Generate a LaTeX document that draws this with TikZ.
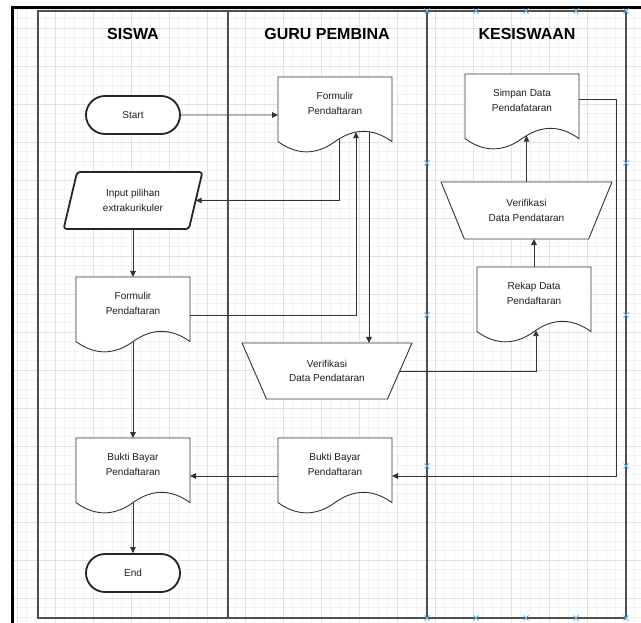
\documentclass[tikz,border=0pt]{standalone}
\usepackage{fontspec}
\setmainfont{Liberation Sans}
\usetikzlibrary{shapes.geometric,shapes.misc,arrows.meta}
\definecolor{gridminor}{HTML}{F3F3F3}
\definecolor{gridmajor}{HTML}{E2E2E2}
\definecolor{lanecol}{HTML}{505050}
\definecolor{shapecol}{HTML}{333333}
\definecolor{handlecol}{HTML}{5AB4E8}
\definecolor{textcol}{HTML}{1E1E1E}
\newcommand\docshape[4]{%
  \node[docbox, anchor=north west] (#1) at (#2,#3) {};
  \draw[docline, shift={(#1.north west)}] (0,0) -- (114,0) -- (114,64.6)
     .. controls (95,50.93) and (76,50.93) .. (57,64.6)
     .. controls (38,78.27) and (19,78.27) .. (0,64.6) -- cycle;
  \node[lbl] (#1-t) at ([yshift=-26.5pt]#1.north) {#4};
}
\begin{document}
\begin{tikzpicture}[x=1pt,y=-1pt,
  lbl/.style={font=\fontsize{10}{14.5}\selectfont, align=center, text=textcol, inner sep=0pt},
  hdr/.style={font=\fontsize{16}{19}\selectfont\bfseries, text=black, inner sep=0pt},
  docbox/.style={rectangle, minimum width=114pt, minimum height=76pt, inner sep=0pt, outer sep=0pt},
  docline/.style={draw=shapecol, fill=white, line width=0.9pt},
  term/.style={rounded rectangle, draw=black!85, fill=white, line width=1.8pt, minimum width=94pt, minimum height=38pt, inner sep=0pt, lbl},
  inshape/.style={trapezium, trapezium left angle=71.6, trapezium right angle=108.4, trapezium stretches=true,
     rounded corners=3pt, draw=black!85, fill=white, line width=1.8pt, minimum width=139pt, minimum height=57pt, inner sep=0pt, outer sep=0pt, lbl},
  manual/.style={trapezium, trapezium left angle=#1, trapezium right angle=#1, trapezium stretches=true,
     draw=shapecol, fill=white, line width=0.9pt, inner sep=0pt, outer sep=0pt, lbl},
  arr/.style={draw=shapecol, line width=0.9pt, -{Triangle[length=6pt,width=5.5pt]}},
  lane/.style={draw=lanecol, line width=1.3pt},
  handle/.style={draw=handlecol, line width=0.9pt}
]
\useasboundingbox (0,0) rectangle (641,623);
\fill[white] (0,0) rectangle (641,623);
% grid
\begin{scope}
\clip (13,8.5) rectangle (641,623);
\foreach \i in {0,...,67} {
  \draw[gridminor, line width=0.6pt] ({7.5+9.5*\i},0) -- ({7.5+9.5*\i},623);
  \draw[gridminor, line width=0.6pt] (0,{-10+9.5*\i}) -- (641,{-10+9.5*\i});
}
\foreach \i in {0,...,17} {
  \draw[gridmajor, line width=0.8pt] ({17+38*\i},0) -- ({17+38*\i},623);
  \draw[gridmajor, line width=0.8pt] (0,{-10+38*\i}) -- (641,{-10+38*\i});
}
\end{scope}
% outer border
\draw[black, line width=2.6pt] (12.2,623) -- (12.2,7.7) -- (641,7.7);
% swimlanes
\draw[lane] (38,11) rectangle (626,618);
\draw[lane] (228,11) -- (228,618);
\draw[lane] (427,11) -- (427,618);
\node[hdr] (h1) at (133,34) {SISWA};
\node[hdr] (h2) at (327,34) {GURU PEMBINA};
\node[hdr] (h3) at (527,34) {KESISWAAN};
% selection handles
\foreach \p in {(427,11),(476,11),(526,11),(576,11),(626,11),
                (427,618),(476,618),(526,618),(576,618),(626,618),
                (427,163),(427,315),(427,466),(626,163),(626,315),(626,466)} {
  \draw[handle] \p ++(-2.5,-2.5) -- ++(5,5) \p ++(-2.5,2.5) -- ++(5,-5);
}
% SISWA
\node[term] (start) at (133,115) {Start};
\node[inshape] (inp) at (133,200.5) {Input pilihan\\extrakurikuler};
\docshape{sf}{76}{277}{Formulir\\Pendaftaran}
\docshape{sb}{76}{438}{Bukti Bayar\\Pendaftaran}
\node[term] (end) at (133,573) {End};
% GURU PEMBINA
\docshape{gf}{278}{77}{Formulir\\Pendaftaran}
\node[manual=125, minimum width=170pt, minimum height=56pt] (vg) at (327,371) {Verifikasi\\Data Pendataran};
\docshape{gb}{278}{438}{Bukti Bayar\\Pendaftaran}
% KESISWAAN
\docshape{sp}{465}{74}{Simpan Data\\Pendafataran}
\node[manual=123, minimum width=171pt, minimum height=57pt] (kv) at (526.5,210.5) {Verifikasi\\Data Pendataran};
\docshape{rk}{477}{267}{Rekap Data\\Pendaftaran}
% connector points on the wavy edges
\coordinate (gfOut) at ([shift={(61,61.9)}]gf.north west);
\coordinate (gfIn) at ([shift={(78,55.1)}]gf.north west);
\coordinate (gfDown) at ([shift={(91,54.7)}]gf.north west);
\coordinate (rkIn) at ([shift={(59,63.2)}]rk.north west);
\coordinate (spIn) at ([shift={(61.5,61.6)}]sp.north west);
\coordinate (spOut) at ([shift={(114,25)}]sp.north west);
\coordinate (sfOut) at ([shift={(57,64.6)}]sf.north west);
\coordinate (sbOut) at ([shift={(57,64.6)}]sb.north west);
% connectors
\draw[arr] (start) -- (gf);
\draw[arr] (gfOut) |- (inp.east);
\draw[arr] (inp.south) -- (inp.south |- sf.north);
\draw[arr] (sf.east) -| (gfIn);
\draw[arr] (gfDown) -- (gfDown |- vg.north);
\draw[arr] (vg.east) -| (rkIn);
\draw[arr] (rk.north) -- (rk.north |- kv.south);
\draw[arr] (kv.north) -- (spIn);
\draw[arr] (spOut) -- ++(37,0) |- (gb.east);
\draw[arr] (gb.west) -- (sb.east);
\draw[arr] (sfOut) -- (sb.north);
\draw[arr] (sbOut) -- (end.north);
\end{tikzpicture}
\end{document}
